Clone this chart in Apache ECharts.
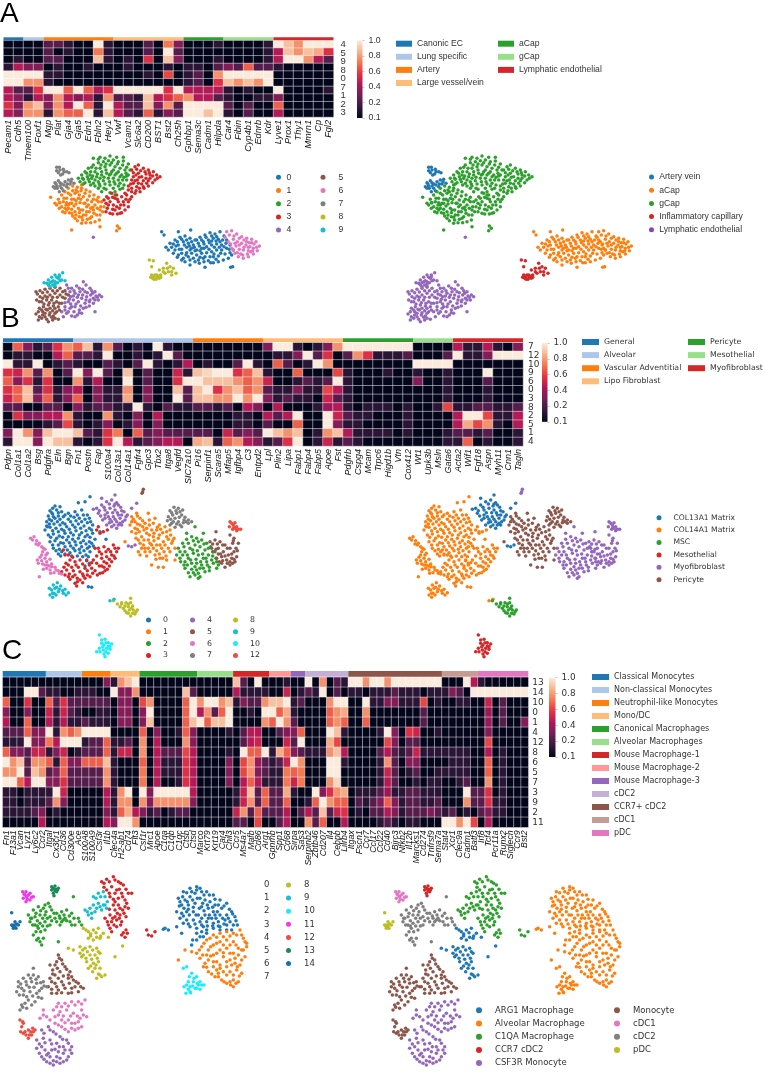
<!DOCTYPE html>
<html><head><meta charset="utf-8">
<script src="https://cdn.jsdelivr.net/npm/echarts@6/dist/echarts.min.js"></script>
<style>html,body{margin:0;padding:0;background:#fff}#c{width:765px;height:1075px}</style></head>
<body><div id="c"></div>
<script>
// ---------- heatmap A ----------
const genesA=['Pecam1','Cdh5','Tmem100','Foxf1','Mgp','Plat','Gja4','Gja5','Edn1','Fbln2','Hey1','Vwf','Vcam1','Slc6a2','CD200','BST1','Bst2','Ch25h','Gphbp1','Sema3c','Cadm1','Hilpda','Car4','Fibin','Cyp4b1','Ednrb','Kdr','Lyve1','Prox1','Thy1','Mmrn1','Cp','Fgl2'];
const rowTicksA=['4','5','9','8','0','7','1','2','3'];
const heatA=[
[1,1,1,1,3,3,2,1,1,10,2,1,1,1,3,1,7.5,4,1,1,1,2,1,1,1,1,2,10,9,8,10,10,10],
[1,1,1,1,3,1,2,1,1,7.5,2,1,1,1,3,1,10,3,1,1,1,1,1,1,1,1,2,5,9,8,9,8.5,6],
[1,2,1,1,3,3,1,1,1,9,2,1,2,1,6,1,9,4,1,1,1,2,1,1,1,1,2,5,10,10,8,5,3],
[2,5,4,4,1,2,1,1,2,1,1,1,2,1,1,1,2,1,2,2,1,3,4,3,7,3,3,2,1,1,1,1,1],
[10,10,10,10,2,2,1,1,1,1,1,1,1,1,2,1,6.5,1,2,3,1,8,10,10,10,10,10,1,1,1,1,1,1],
[10,10,8,8,2,1,1,1,1,1,1,1,1,1,1,1,1,1,2,3,1,6,9,8,9,8,10,1,1,1,1,1,1],
[5,3,3,6,10,10,7,10,7,5,6,10,10,10,10,10,6,10,5,5,5,5,2,1,2,1,1,10,1,1,1,1,2],
[5,4,2,5,4,8,5,4,5,2,8,3,3,2,9,5,6,7,8,5,5,3,2,1,1,2,2,4,1,1,1,1,1],
[6,4,8,9,4,8,5,10,7,2,10,5,3,3,9,4,8,3,10,10,10,10,3,1,3,1,1,7,1,1,1,1,1],
[5,4,8,8,2,8,7,7,10,2,9,5,3,2,7,2,4,3,10,10,9,10,2,1,3,1,1,5,1,1,1,1,1]];
const groupsA=['Canonic EC','Lung specific','Artery','Large vessel/vein','aCap','gCap','Lymphatic endothelial'];
const groupSizesA=[2,2,7,7,4,5,6];
// ---------- heatmap B ----------
const genesB=['Pdpn','Col1a1','Col1a2','Bsg','Pdgfra','Eln','Bgn','Fn1','Postn','Fap','S100a4','Col13a1','Col14a1','Fgfr4','Gpc3','Tbx2','Itga8','Vegfd','SIC7a10','Pi16','Serpinf1','Scara5','Mfap5','Igfbp4','C3','Entpd2','Lpl','Plin2','Lipa','Fabp1','Fabp4','Fabp5','Apoe','Fst','Pdgfrb','Cspg4','Mcam','Trpc6','Higd1b','Vtn','Cox412','Wt1','Upk3b','Msln','Gata6','Acta2','Wif1','Fgf18','Aspn','Myh11','Cnn1','Tagln'];
const rowsB=['7','12','10','9','6','0','3','8','2','5','1','4'];
const heatB=[
[1,7,4,2,3,6,8,7,9,2,8,3,1,2,1,10,2,1,1,1,1,1,1,1,1,1,4,10,10,2,1,2,4,8,10,10,10,10,10,10,10,1,1,1,1,5,2,2,5,2,1,4],
[1,2,2,1,1,5,7,3,3,2,10,1,1,2,1,2,10,3,1,1,1,1,1,1,1,1,1,2,2,4,10,3,6,1,3,8,6,2,2,2,3,1,1,1,3,10,2,2,4,10,10,10],
[10,2,2,10,1,2,3,2,1,1,3,2,1,3,10,2,1,2,5,1,2,1,1,3,10,2,1,7,3,1,2,10,8,1,1,1,1,1,1,1,1,10,10,10,10,1,1,1,1,1,1,1],
[6,5.5,8,3,8,1,3,10,4,10,3,1,9,1,3,1,1,5.5,2,9,9.5,10,10,6,7,9,2,1,1,7,1,1,1,6.5,2,1,1,1,2,1,1,2,1,1,2,1,1,1,10,1,1,1],
[7,4,6,2,6,1,1,8,2,5,1,1,10,1,3,1,1,6,10,10,9,9,9,8,7,8,5.5,1,1,2,3,2,3,10,2,1,1,1,1,1,1,4,1,1,2,1,1,1,3,1,1,1],
[6,7,9,3,6,2,4,5,1,4,2,2,8,1,4,1,1,9,3,9,10,6,8,9,7,8,3,2,2,4,2,2,6.5,5,2,1,1,1,1,1,1,1,1,1,2,1,1,1,2,1,1,1],
[5.5,7,9,4,7,2,4,7,1,4,2,2,8.5,1,4,1,1,10,3,9,9,8,8,10,8,10,4,2,3,2,2,1,5.5,3,2,1,1,1,1,1,1,1,1,1,2,1,1,1,2,1,1,1],
[3,3,1,1,3,3,1,4,2,3,3,2,2,10,2,1,3,2,2,3,3,2,3,1,5,4,1,5,1,1,1,2,4.5,5,2,1,2,2,2,1,2,1,1,2,6.5,2,2,3,3,2,2,3],
[1,6,4,4,5,5,8,2,1,1,8,2,1,4,1,5,1,1,1,1,1,1,1,2,2,1,5,3,5,10,1,1,10,5.5,3,2,2,1,1,1,2,1,1,1,1,5,10,10,6.5,2,2,5],
[1,1,1,1,2,3,6.5,2,1,2,4,1,2,4,1,4,1,1,1,1,1,1,1,2,2,1,3,1,1,7,1,1,10,4,2,2,1,1,1,1,2,1,1,1,1,5,8.5,6.5,8,2,1,5],
[4,10,8,4,9,10,10,9,3,2,6,7.5,1,7,3,4,3,3,3,3,3,1,5.5,3,4,3,10,9,8,9,1,2,8,9,5,2,2,2,2,1,2,1,1,1,2,3,3,2,3,1,1,2],
[2,10,10,4,10,9,9,2,1,2,6,10,5,2,3,4,5,5,1,8.5,9,2,7,8,5,4,2,3,6,10,1,2,5.5,2,3,2,1,1,1,1,1,1,1,1,2,2,7,1,2,1,1,2]];
const groupsB=['General','Alveolar','Vascular Adventitial','Lipo Fibroblast','Pericyte','Mesothelial','Myofibroblast'];
const groupSizesB=[7,12,7,8,7,4,7];
// ---------- heatmap C ----------
const genesC=['Fn1','F13a1','Vcan','Lyz1','Ly6c2','Ccr2','Itgal','Cx3cr1','Cd36','Cd300e','Ace','S100A8','S100A9','Csf3r','Il1b','Clec4a','H2-ab1','Cd74','Flt3','Csf1r','Mrc1','Apoe','C1qa','C1qb','C1qc','Ctsb','Ctsd','Marco','Krt79','Krt19','Car4','Chil3','Ccr5','Ms4a7','Mafb','Cd86','Arg1','Gpnmb','Spp1','Cd68','Sirpa','Sas3','Serpinb2','Zbtb46','Cd207','Il4','Cebpb','Lilrb4','Itgax','Fscn1','Ccr7','Ccl17','Ccl22','Cd40','Birc3','Nfkb2','Il12b','Marcks1','Cd274','Tnfrsf9','Sema7a','Stat4','Xcr1','Clec9a','Cadm1','Batf3','Irf8','Tcf4','Pcr11a','Runx2','Siglech','Ccr9','Bst2'];
const rowsC=['13','14','10','0','1','4','12','8','6','5','7','3','9','2','11'];
const heatC=[
[1,1,1,1,1,1,1,1,1,1,1,1,1,1,4,2,8,9,10,1,1,1,1,1,1,1,1,1,1,1,1,1,9,3,1,10,1,1,1,2,1,1,10,1,8,1,3,2,10,10,8,10,10,8,10,10,10,10,10,10,10,1,1,1,10,5,2,1,1,1,1,1,1],
[1,1,1,10,10,3,2,2,1,1,2,2,2,1,1,10,4,4,8,1,1,1,1,1,1,9,3,1,1,1,1,1,5,2,2,2,2,1,1,5.5,1,2,3,2,10,1,3,1,2,2,1,2,2,2,3,2,2,2,1,2,2,2,4,3,1,10,10,10,10,10,10,10,10],
[7,1,1,6,1,1,7,3,6,3,3,3,3,3,3,1,4,4,1,6.5,8,1,1,1,1,7,10,8,10,10,8,9,2,4,3,3,8,9,9,10,2,3,1,1,1,8,10,10,1,1,10,2,2,4,4,2,2,2,6.5,1,2,1,1,2,2,1,1,5.5,1,3,1,1,1],
[4,1,1,4,1,1,5.5,2,5.5,3,2,1,1,2,2,1,4,4,1,4,10,1,1,1,1,7,10,5,8,3,7,10,1,1,2,1,10,10,7,8.5,2,1,1,1,1,7,8,8.5,1,1,8,1,1,1,1,1,1,1,3,1,1,1,1,1,1,1,1,4.5,1,3,1,1,1],
[5,1,1,7,1,1,5,2,5,2,2,3,2,2,2,1,4,4,1,4,9,1,1,1,1,7,9,10,7,9,9,10,1,1,1,1,8,7,10,8,3,1,1,1,1,7,8,7,1,1,7,1,1,1,1,1,1,1,3,1,1,1,1,1,1,1,1,4.5,1,3,1,1,4],
[3,3,3,7,4,4,10,2,8,7,8,10,10,10,10,1,1,1,1,7,1,4,1,1,2,7,4,1,1,1,1,2,1,3,5,5,1,1,3,4,4,7,1,1,1,10,9,2,1,1,1,1,2,10,4,1,6,5.5,1,1,2,1,1,1,1,1,1,4,1,1,1,1,1],
[2,2,2,10,4,4,7.5,5,10,10,10,2,3,3,7,2,2,3,1,8,1,5,1,1,1,8,4,1,1,1,1,1,1,3,5,5.5,1,1,1,5.5,3,10,1,1,1,8.5,6.5,1,1,1,1,1,1,6.5,4,1,3,3,1,1,1,1,1,1,1,1,1,6.5,1,1,1,1,1],
[7,4,4,3,5.5,5.5,2,4,5.5,1,2,3,3,3,7,2,5.5,5.5,1,8,1,5,3,3,3,6.5,5,1,1,1,1,2,1,10,7,7,10,2,8.5,7,4,3,2,2,2,8,9,5,1,1,1,1,3,5,3,2,3,5.5,2,2,2,2,2,2,2,1,1,5,1,2,1,1,1],
[10,8,9,3,8,8,7,2,7,4,4,7,7,7,9,2,1,1,1,7,1,5,2,2,2,6,5,1,1,1,1,4,1,6.5,8,4.5,3,2,3,5.5,10,8,1,1,1,10,10,2,1,1,1,1,2,8,3,1,4,4,1,1,1,1,2,2,2,1,1,7,1,2,1,1,1],
[8,8,10,3,9,8,3,4,7,3,3,3,3,3,8,2,1,1,1,7.5,1,5,2,2,2,6,5,1,1,1,1,4,1,6.5,8,4,3,2,2,7.5,7,7.5,1,1,1,10,10,1,1,1,1,1,2,5.5,3,1,2,3,1,1,2,2,2,2,2,1,1,7,1,2,1,1,1],
[10,10,7,5,10,10,4,4,6,3,3,3,3,3,8,2,1,1,1,7.5,1,5,1,1,2,6,5,1,1,1,1,4,1,5,7,5,2,2,2,7.5,5.5,7.5,1,1,1,8,9.5,1,1,1,1,1,2,5,3,1,1,2,1,2,2,1,1,2,3,1,1,8,1,2,1,1,1],
[2,2,1,2,2,2,2,10,5.5,1,1,1,1,1,5,2,8,10,1,10,4,10,10,10,10,10,5,1,1,1,1,1,2,5.5,9,3,7,3,3,8.5,2,1,1,10,4,6,8,8.5,1,2,2,2,3,4.5,2,2,3,3,2,2,2,1,1,1,10,3,3,6,1,2,1,1,1],
[2,2,1,2,2,2,3,8,4,1,1,1,1,1,5,2,8,8,1,8,4,8,8,8,8,8,4,1,1,1,1,1,2,5.5,8,3,7,3,3,7,1,1,2,7,10,8,7,7,1,3,2,3,4,7,4,2,3,3,2,2,3,1,1,1,8,3,3,6,2,2,1,1,1],
[2,2,2,2,3,4,1,2,1,1,1,1,1,1,4,2,7,8.5,5,4,2,3,1,2,3,3,1,1,1,1,1,1,5.5,8,3,7,3,3,3,5,1,3,5,3,9,3,5.5,6,1,2,1,3,3,5,4,2,3,3,3,4,3,2,3,1,2,1,3,4,2,2,1,1,1],
[1,1,1,1,1,5,1,1,1,1,1,1,1,1,5,4,10,10,8,1,1,1,1,1,1,1,1,1,1,1,1,1,3,3,1,6.5,1,1,3,5,1,1,8,3,7,1,1,5,1,1,1,1,2,3,2,1,2,2,1,1,1,10,10,8,10,6.5,1,5,1,1,1,1,1]];
const groupsC=['Classical Monocytes','Non-classical Monocytes','Neutrophil-like Monocytes','Mono/DC','Canonical Macrophages','Alveolar Macrophages','Mouse Macrophage-1','Mouse Macrophage-2','Mouse Macrophage-3','cDC2','CCR7+ cDC2','cDC1','pDC'];
const groupSizesC=[6,5,4,4,8,5,5,3,2,6,13,5,7];
const tab20=['#1f77b4','#aec7e8','#ff7f0e','#ffbb78','#2ca02c','#98df8a','#d62728','#ff9896','#9467bd','#c5b0d5','#8c564b','#c49c94','#e377c2'];
const barTicks=['0.1','0.2','0.4','0.6','0.8','1.0'];
const rocket=['#03051a','#35193e','#701f57','#ad1759','#e13342','#f37651','#f6b48f','#faebdd'];
const clusterColors=['#1f77b4','#ff7f0e','#2ca02c','#d62728','#9467bd','#8c564b','#e377c2','#7f7f7f','#bcbd22','#17becf','#1cecf8','#ea3ce8','#ee4c3f','#1a8a57','#1a6fa8'];
// ---------- embedding A (x,y pairs, picture units) ----------
const a0=[498,262,510,250,525,240,540,232,555,228,570,235,585,240,600,232,615,225,630,218,645,222,660,215,672,228,680,240,690,255,700,270,695,285,685,295,670,300,655,305,640,308,625,302,610,295,595,300,580,295,565,290,550,295,535,285,525,270,515,262,535,255,550,245,565,250,580,255,595,250,610,245,625,240,640,235,655,238,665,255,650,252,635,255,620,260,605,265,590,270,575,265,560,262,545,268,545,280,560,278,575,280,590,285,605,280,620,278,635,275,650,270,665,270,680,265,675,282,655,288,640,290,485,215,492,225,535,215,572,210,615,322,692,322,698,320,570,315,
505,270,520,252,532,245,545,238,560,240,575,245,590,240,605,240,618,232,635,228,650,230,668,240,678,250,688,268,672,260,658,262,643,262,628,248,612,252,598,258,583,262,568,258,553,255,538,268,528,258,520,280,532,292,545,300,558,285,570,270,585,272,600,272,612,265,627,268,642,282,630,290,615,290,600,292,585,305,570,300,555,305,662,280,690,278,648,298,632,308,612,305,598,310,660,245,648,243,635,243];
const a1=[165,130,175,118,185,105,195,95,205,85,218,78,232,82,245,75,258,90,270,95,282,105,295,112,305,125,312,140,300,150,290,165,298,180,285,185,270,175,258,165,248,180,238,170,225,175,215,160,200,150,188,155,178,145,190,125,200,115,212,105,225,100,238,105,250,110,262,120,275,125,285,135,272,145,260,140,248,150,235,145,222,138,210,130,198,135,215,118,228,122,240,128,205,145,225,155,238,158,252,130,268,155,280,150,290,120,243,92,228,90,152,112,215,210,300,200,350,212,358,205,352,198,
170,135,180,128,192,115,205,100,218,92,232,95,245,85,255,100,268,108,280,118,295,125,302,140,292,145,282,160,275,170,262,178,250,165,240,150,228,165,215,148,205,135,195,145,185,140,178,128,215,130,228,132,242,118,255,130,265,135,278,142,260,155,245,172,232,182,218,168,208,158,195,158,272,188,258,188,245,190,300,165,308,155,222,118,235,115,200,128];
const a2=[235,55,245,45,255,35,265,25,280,15,295,8,310,5,325,2,340,0,355,5,370,3,385,12,390,30,385,45,380,60,372,75,360,88,345,95,330,98,318,88,305,95,295,85,280,70,268,65,255,68,248,55,270,45,285,35,300,25,315,20,330,15,345,20,360,25,375,30,365,45,350,40,335,35,320,40,305,45,290,50,275,55,295,65,310,62,325,55,340,55,355,60,345,72,330,75,315,72,300,78,340,85,360,70,280,-5,300,-8,330,-12,350,-8,
240,65,250,58,262,50,272,35,288,25,303,15,318,12,335,8,352,12,368,15,380,22,378,40,372,52,360,50,345,45,332,42,318,30,305,35,292,42,278,48,265,58,285,60,300,55,312,52,328,45,340,30,355,35,368,60,355,78,342,65,328,65,312,85,298,72,285,78,272,75,345,105,368,85,380,48,260,40,275,22,295,-2,315,-5,370,-8,250,72];
const a3=[395,30,405,20,415,15,430,25,445,30,460,35,470,45,480,50,465,60,450,55,440,70,432,85,420,95,405,100,395,85,385,90,375,100,400,70,412,60,425,50,438,42,415,40,400,50,450,45,425,72,410,80,320,110,335,100,345,115,330,125,318,130,340,135,355,125,365,110,378,118,372,135,385,140,375,150,360,160,345,150,330,160,322,145,395,110,385,125,350,105,358,145,
400,38,410,28,422,32,435,35,448,38,458,48,472,55,458,68,445,62,438,55,430,62,418,52,408,45,395,60,405,62,415,70,430,80,418,85,408,92,395,95,385,78,392,72,445,78,312,120,325,115,338,112,352,118,325,135,338,148,350,140,362,135,370,125,380,105,390,118,365,158,352,162,338,162,318,155];
const a4=[200,375,215,385,230,378,250,365,270,385,285,395,298,405,305,410,295,420,280,430,268,438,255,430,245,415,260,410,272,405,255,395,240,395,225,400,212,410,205,425,220,420,235,425,225,440,210,445,195,440,185,455,200,460,215,468,232,465,245,460,250,445,238,450,285,455,235,405,210,395,280,415,190,470,280,232,
205,385,222,392,238,385,258,375,275,392,288,408,285,420,270,420,258,420,248,405,262,398,248,388,232,412,220,408,208,418,195,428,212,432,228,432,242,438,258,442,268,425,238,458,222,455,205,455,195,450,215,440,278,400,292,412,225,470];
const a5=[108,395,120,392,135,388,150,385,165,382,180,385,195,392,205,405,195,415,180,405,165,400,150,405,135,408,120,410,110,420,125,425,140,420,155,420,170,425,185,430,175,440,160,438,145,435,130,440,118,445,128,455,142,450,158,452,170,455,160,468,148,465,135,470,125,475,108,462,115,480,145,485,158,480,175,478,
112,402,128,398,142,396,158,392,172,392,188,395,198,402,188,412,172,412,158,412,142,412,128,415,118,425,132,432,148,428,162,430,178,430,165,445,150,445,138,448,125,450,115,455,135,460,150,458,165,460,178,450,155,472,140,478,128,465,118,470,165,475];
const a6=[680,215,695,212,710,222,725,230,740,235,755,238,768,245,778,258,772,272,760,282,745,290,730,295,715,290,705,280,695,265,685,245,675,232,700,238,712,245,725,250,738,255,750,260,760,265,745,272,730,270,718,268,708,258,740,245,752,275,722,282,688,225,702,228,718,235,732,240,748,248,762,252,770,262,758,272,742,282,728,285,712,278,700,270,692,252,705,250,718,255,732,262,745,262,755,248];
const a7=[170,22,180,30,175,38,190,28,200,35,188,42,207,38,165,68,175,62,185,72,160,80,172,85,180,78,195,65,205,60,215,58,222,70,200,80,190,92,210,72,178,95,168,72,178,22,192,35,182,45,170,32,180,68,192,75,170,78,165,85,202,72,213,65,185,85];
const a8=[448,300,460,302,455,320,478,330,490,325,500,310,510,320,505,335,520,325,528,340,515,345,495,340,455,345,462,350,470,345,478,355,468,358,458,355,482,345,465,345,472,352,462,358,478,348,452,352,490,335,502,325,515,335,482,352,458,348];
const a9=[132,368,145,360,155,352,165,345,178,345,188,338,175,355,165,365,158,375,150,380,165,378,140,370,185,360,195,362,172,368,150,368,160,362,170,352,180,362,155,365,145,375,165,372,178,350];
// ---------- embedding B ----------
const b0=[165,78,180,80,150,92,170,90,185,95,145,108,158,102,175,108,190,110,205,100,225,95,245,90,262,105,140,125,155,122,172,125,188,128,205,118,222,112,238,115,255,118,272,125,135,150,150,142,168,145,185,148,200,140,218,135,235,132,252,138,268,145,145,165,160,162,178,168,195,160,212,158,228,152,245,158,262,165,278,160,150,185,165,182,182,188,200,180,218,178,235,175,250,182,268,185,285,178,160,205,178,208,195,200,212,198,228,195,245,200,262,205,280,198,175,222,210,218,225,212,240,218,258,225,270,215,260,242,268,250,255,258,265,320,275,322,235,68,255,65,270,50,300,155,318,178,
158,85,175,98,160,110,148,118,165,115,180,118,195,105,212,108,232,105,250,105,268,115,148,132,162,132,180,135,195,132,212,125,228,122,245,125,262,128,278,135,142,140,158,152,175,155,192,152,208,148,225,142,242,145,258,152,275,150,152,172,170,175,188,172,205,170,220,165,238,165,255,170,270,172,158,195,175,195,190,190,208,188,225,185,242,188,258,192,275,190,168,212,185,215,202,210,220,205,238,208,252,212,268,200,182,228,195,222,215,228,232,228,248,230,265,230,155,98,140,138];
const b1=[395,110,410,100,420,115,405,125,390,135,405,145,420,135,435,130,445,100,465,115,478,135,495,140,510,150,522,175,515,190,525,205,510,215,498,228,480,235,465,225,450,215,435,205,420,190,408,175,425,170,440,160,455,150,470,150,488,158,500,170,490,185,475,175,460,170,445,180,455,195,470,195,485,205,470,212,440,145,418,155,395,155,475,262,490,262,525,240,455,255,375,185,415,215,420,225,
400,118,412,108,428,122,395,125,412,132,428,140,412,148,432,150,448,120,448,135,460,130,472,142,482,148,500,155,512,165,518,182,505,178,495,195,505,205,492,215,478,222,460,205,445,205,430,195,415,180,432,180,448,165,462,160,478,165,480,195,462,182,450,190,435,215,468,238,488,235,500,240,408,160,425,205,440,228];
const b2=[535,205,548,190,560,178,575,170,590,175,605,180,620,190,632,200,645,215,655,255,640,250,628,262,615,275,600,290,585,285,570,290,555,265,542,245,530,225,555,215,570,205,585,195,600,200,615,210,625,225,610,235,595,225,580,220,565,235,555,245,575,250,590,250,605,255,620,245,590,270,575,268,560,160,585,140,610,160,650,265,
540,215,552,200,565,190,580,182,595,185,612,192,625,205,638,215,648,235,635,240,622,255,610,265,595,280,580,278,565,278,552,255,540,235,562,225,578,210,592,212,608,222,618,235,602,245,588,238,572,240,562,255,585,260,600,265,638,228,650,245,548,225,595,295,628,272];
const b3=[190,210,205,225,218,232,198,250,185,275,200,270,215,262,228,255,240,240,225,285,240,275,255,265,268,255,280,240,285,205,298,215,312,200,325,208,340,195,350,215,335,225,320,230,305,235,290,250,305,258,320,250,335,245,315,272,300,280,285,272,270,290,255,295,240,300,225,310,210,298,195,285,230,318,345,235,275,265,260,240,250,288,295,140,310,155,290,150,300,160,322,150,
195,225,210,240,225,245,205,255,192,262,208,282,220,272,235,262,248,252,232,295,248,282,262,272,275,248,290,228,295,205,305,222,318,215,332,215,345,205,342,228,328,238,312,245,298,258,312,262,328,258,322,268,308,278,292,285,278,280,262,285,248,308,232,305,218,290,205,290,355,205];
const b4=[290,85,305,75,320,65,335,60,350,68,362,82,372,95,382,105,375,120,365,135,350,145,335,140,320,135,308,120,295,100,315,90,330,85,345,90,355,105,340,110,325,110,335,125,350,125,360,115,315,105,345,72,280,88,305,55,345,45,410,70,395,85,385,198,395,200,405,195,298,92,312,82,328,72,342,78,355,75,365,92,378,110,368,125,355,135,342,135,328,128,315,115,302,108,322,98,338,98,352,98,365,105,345,118,330,118,360,130];
const b5=[630,185,645,180,660,185,675,195,690,205,702,215,710,230,705,245,690,255,675,262,665,250,650,235,640,215,655,205,670,215,685,225,695,235,680,240,665,230,648,155,690,165,702,175,715,190,708,205,698,190,430,28,428,35,426,40,638,192,652,192,668,195,682,205,695,222,702,238,698,250,682,250,668,242,655,222,648,208,662,222,675,228,690,245,635,205,658,245,700,182,712,212];
const b6=[92,175,102,170,110,182,118,190,108,192,125,200,135,208,128,215,142,220,120,232,135,235,150,238,115,250,128,252,142,255,155,252,165,262,150,270,162,278,175,272,185,282,140,265,130,268,118,290,98,180,115,195,130,205,138,225,125,225,112,240,125,242,140,245,155,260,168,270,178,280,148,258,135,255,152,280];
const b7=[510,92,522,82,535,85,548,90,505,110,518,105,530,100,545,105,555,112,565,120,575,125,565,130,550,128,535,125,520,125,510,135,525,142,540,135,502,122,515,98,528,92,540,95,538,112,525,115,512,118,552,120,558,125,530,132,545,140,515,130];
const b8=[340,362,352,372,365,372,378,368,392,355,398,378,412,390,405,402,392,408,380,398,370,385,385,380,400,390,388,390,360,380,375,378,385,372,392,368,395,385,408,395,398,400,385,400,375,392,365,368];
const b9=[148,325,160,315,172,308,182,318,195,328,205,338,190,340,175,335,162,340,150,345,158,352,170,322,330,362,342,358,155,330,165,325,178,328,188,332,198,345,168,345,158,340];
const b10=[298,465,305,480,315,478,325,488,335,492,330,508,320,505,310,510,300,515,290,515,315,530,325,520,312,495,305,490,318,488,325,498,308,500,298,505,318,515,330,500,312,522];
const b12=[690,125,700,135,710,140,722,148,710,152,698,148,688,140,705,128,695,130,705,145,715,148,702,142];
// ---------- embedding C ----------
const c0=[530,185,545,165,535,145,550,125,570,115,590,110,605,125,620,125,640,135,660,150,680,160,695,185,705,200,712,225,695,240,680,225,660,240,640,235,620,240,610,260,590,270,575,285,555,150,570,140,585,130,600,145,615,150,630,155,645,165,665,175,680,195,660,195,640,185,625,175,605,170,585,160,565,165,545,190,560,185,580,185,595,195,615,195,635,205,655,215,675,210,640,220,620,215,600,215,580,210,560,210,540,205,590,235,610,230,570,230,495,235,505,240,490,238,530,230,545,250,
540,155,548,140,560,128,575,125,590,120,600,115,612,135,628,135,645,148,655,165,672,168,688,178,698,192,708,212,690,215,672,222,655,228,638,228,622,228,605,245,590,250,578,270,552,175,562,155,578,150,592,145,608,160,622,165,638,172,652,185,668,205,648,205,628,195,612,182,598,175,580,172,565,178,550,198,568,195,588,195,605,205,625,205,645,195,660,230,680,240,605,225,585,222,565,222,550,220,600,260,620,250,538,168,685,205,700,225];
const c1=[590,310,605,290,620,270,640,255,660,250,680,245,700,250,720,240,730,265,740,290,735,320,720,345,725,370,715,395,700,410,680,400,665,390,645,380,625,365,615,340,600,325,625,300,640,285,660,275,680,270,700,275,715,295,700,310,680,295,660,300,640,315,625,330,650,335,670,320,690,330,705,340,680,350,660,355,640,350,655,370,680,375,700,375,710,360,690,395,740,280,535,330,555,300,
598,300,612,280,630,265,650,262,670,260,690,258,710,255,725,255,735,275,730,300,725,330,712,350,718,378,708,400,692,405,672,395,655,380,635,372,620,352,608,315,632,290,650,280,670,285,690,285,708,285,705,325,690,310,670,308,650,310,632,318,640,335,660,345,680,335,695,345,670,365,650,360,690,365,700,390,725,300,715,315,620,315,610,350,575,305];
const c2=[85,195,100,180,115,170,130,175,145,160,155,180,170,190,185,185,200,180,215,190,235,205,245,225,225,225,210,215,195,205,180,205,165,205,150,200,135,195,120,195,105,200,90,215,105,225,120,220,135,215,150,225,135,240,115,235,100,255,115,265,130,265,125,285,175,275,180,225,220,140,
92,205,108,190,122,182,138,185,150,170,162,190,178,198,192,195,208,198,222,205,238,215,215,225,200,212,185,215,170,215,155,212,142,205,128,205,112,212,98,225,112,228,128,228,142,228,122,245,108,245,110,270,120,275,95,205,190,210,135,165];
const c3=[305,95,320,88,340,80,355,95,370,105,385,130,375,150,385,175,378,200,365,215,350,230,335,245,325,225,315,205,330,195,345,180,360,175,345,155,330,140,320,120,335,110,350,120,365,130,355,145,340,165,360,195,350,210,335,215,378,240,365,255,375,262,395,130,440,240,445,255,455,258,465,245,
312,100,328,95,345,90,362,100,378,118,368,140,380,160,372,190,358,205,342,225,330,235,322,215,338,205,352,190,368,180,355,165,340,148,328,130,345,130,358,118,375,170,345,200,328,178,362,225,370,248,382,250,312,112];
const c4=[125,540,145,530,160,545,180,560,200,570,215,590,215,610,200,630,180,640,160,645,140,635,125,620,110,595,110,570,130,565,150,570,170,580,190,590,175,605,155,600,135,600,150,620,170,620,190,610,132,550,150,540,168,552,188,568,205,580,210,600,205,620,190,635,170,635,150,640,132,628,118,610,118,582,135,578,155,582,178,590,165,598,145,610,125,590,180,625,160,632,140,615,195,600];
const c5=[175,315,185,330,165,345,150,345,195,350,210,365,180,365,165,375,150,385,145,410,165,400,185,395,205,385,220,390,235,400,250,415,235,425,215,415,195,415,175,420,155,430,205,430,178,325,170,335,188,342,200,358,172,355,158,360,158,372,175,385,190,378,205,375,215,380,228,395,242,410,225,410,208,400,190,405,170,410,155,395,155,418,185,428,215,428,170,430];
const c6=[175,460,195,460,215,455,235,455,255,450,245,480,260,500,240,505,220,490,200,480,180,485,165,500,185,510,205,510,225,520,245,530,225,540,205,545,185,530,165,520,140,500,120,505,130,480,185,470,205,468,225,465,245,462,250,495,232,498,212,498,190,498,175,495,195,518,215,520,235,515,235,535,215,535,195,538,175,525,150,510,130,495,160,480,170,470];
const c7=[55,395,70,385,85,375,100,375,115,380,130,395,140,410,125,415,110,400,95,395,80,405,65,415,50,425,70,435,90,425,110,430,125,445,105,455,85,450,65,465,80,475,60,480,100,355,62,402,78,395,92,385,108,388,122,398,132,408,118,422,102,412,88,412,72,422,58,435,80,440,98,438,115,442,95,465,75,460,55,410,68,472];
const c8=[250,235,265,245,280,240,295,235,310,250,325,262,300,265,280,270,265,265,240,290,255,295,270,290,290,295,300,310,285,315,270,315,250,315,240,310,260,335,280,340,295,335,265,355,285,355,300,375,315,375,290,385,205,295,220,300,345,320,368,288,258,240,272,252,288,248,302,258,290,262,272,258,248,300,262,305,278,300,295,305,292,325,275,328,258,325,245,320,272,348,288,345,300,355,278,365,295,372,305,380];
const c9=[280,140,295,130,310,125,322,155,310,165,295,160,280,165,270,175,255,180,265,195,275,205,320,175,305,180,290,175,288,145,302,140,315,140,300,170,285,185,275,190,262,185,315,165];
const c10=[550,355,560,350,575,370,590,380,600,395,612,405,600,418,585,415,570,425,558,430,552,410,565,395,580,395,570,410,595,405,568,380,582,385,592,400,578,408,565,418,590,415,605,405,560,405,572,428];
const c11=[68,125,78,125,90,130,100,140,90,150,78,155,70,145,80,140,72,132,85,135,95,142,82,148,75,135];
const c12=[60,510,70,520,62,545,75,545,85,540,98,535,105,540,95,555,85,565,70,550,65,530,78,555,92,545,88,555,100,545,68,515];
const c13=[155,110,165,108,175,115,170,125,160,130,155,120,162,137,160,115,168,118,165,122,172,120];
const c14=[35,225,45,215,55,225,48,235,40,235,35,188,60,215,42,225,50,222,38,228,45,230];
// ---------- cluster ids and cell types ----------
const clustersA=[a0,a1,a2,a3,a4,a5,a6,a7,a8,a9], idsA=[0,1,2,3,4,5,6,7,8,9];
const clustersB=[b0,b1,b2,b3,b4,b5,b6,b7,b8,b9,b10,b12], idsB=[0,1,2,3,4,5,6,7,8,9,10,12];
const clustersC=[c0,c1,c2,c3,c4,c5,c6,c7,c8,c9,c10,c11,c12,c13,c14], idsC=[0,1,2,3,4,5,6,7,8,9,10,11,12,13,14];
const typesA=['Artery vein','aCap','gCap','Inflammatory capillary','Lymphatic endothelial'], typeOfA=[1,2,2,2,4,4,1,0,3,4];
const typesB=['COL13A1 Matrix','COL14A1 Matrix','MSC','Mesothelial','Myofibroblast','Pericyte'], typeOfB=[1,5,4,1,0,4,1,5,2,1,3,4];
const typesC=['ARG1 Macrophage','Alveolar Macrophage','C1QA Macrophage','CCR7 cDC2','CSF3R Monocyte','Monocyte','cDC1','cDC2','pDC'], typeOfC=[1,1,7,2,4,5,4,5,0,2,1,6,5,3,8];

const SANS='"Liberation Sans"', DJ='"DejaVu Sans"', TXT='#333';
const opt={animation:false,backgroundColor:'#fff',grid:[],xAxis:[],yAxis:[],series:[],legend:[],title:[],
 visualMap:{show:false,min:.1,max:1,seriesIndex:[],inRange:{color:rocket},dimension:2}};
function addAxes(g,x,y){const gi=opt.grid.length;opt.grid.push(g);const xi=opt.xAxis.length,yi=opt.yAxis.length;
 opt.xAxis.push(Object.assign({gridIndex:gi},x));opt.yAxis.push(Object.assign({gridIndex:gi},y));return{gi,xi,yi};}
function heat(box,genes,mat,labels,fs,fam,rowFs,rowMargin){
 const a=addAxes({left:box[0],top:box[1],width:box[2],height:box[3]},
  {type:'category',data:genes,axisLine:{show:false},axisTick:{show:false},axisLabel:{interval:0,rotate:90,fontStyle:'italic',fontSize:fs,fontFamily:SANS,color:'#111',margin:3},splitLine:{show:false}},
  {type:'category',data:mat.map((_,i)=>i),inverse:true,show:false});
 opt.yAxis.push({gridIndex:a.gi,type:'category',data:labels,inverse:true,position:'right',axisLine:{show:false},axisTick:{show:false},axisLabel:{interval:0,fontSize:rowFs,fontFamily:fam,color:'#333',margin:rowMargin}});
 const d=[];mat.forEach((r,y)=>r.forEach((v,x)=>d.push([x,y,v/10])));
 opt.visualMap.seriesIndex.push(opt.series.length);
 opt.series.push({type:'heatmap',xAxisIndex:a.xi,yAxisIndex:a.yi,data:d,silent:true,itemStyle:{borderColor:'rgba(255,255,255,.75)',borderWidth:.6}});
}
function strip(box,names,sizes){
 const a=addAxes({left:box[0],top:box[1],width:box[2],height:box[3]},{type:'value',min:0,max:sizes.reduce((p,q)=>p+q,0),show:false},{type:'category',data:['g'],show:false});
 names.forEach((n,i)=>opt.series.push({type:'bar',name:n,stack:'s'+a.gi,barWidth:'100%',xAxisIndex:a.xi,yAxisIndex:a.yi,data:[sizes[i]],silent:true,itemStyle:{color:tab20[i]}}));
}
function colorbar(box,fam,fs){
 const a=addAxes({left:box[0],top:box[1],width:box[2],height:box[3]},{type:'category',data:['c'],show:false},
 {type:'value',min:0,max:1,interval:.2,position:'right',splitLine:{show:false},axisLine:{show:false},axisTick:{show:true,length:2,lineStyle:{color:'#999',width:.6}},axisLabel:{fontSize:fs,fontFamily:fam,color:'#333',margin:6,formatter:(v)=>barTicks[Math.round(v*5)]}});
 opt.series.push({type:'bar',barWidth:'100%',xAxisIndex:a.xi,yAxisIndex:a.yi,data:[1],silent:true,itemStyle:{color:{type:'linear',x:0,y:1,x2:0,y2:0,colorStops:rocket.map((c,i)=>({offset:i/7,color:c}))}}});
}
function pairs(f){const o=[];for(let i=0;i<f.length;i+=2)o.push([f[i],f[i+1]]);return o;}
const SZ=3.5;
function embed(px,py,w,h,y0,clusters,ids,types,typeOf,off){
 const mk=(left)=>addAxes({left:left,top:py,width:w,height:h},{type:'value',min:0,max:w*3,show:false},{type:'value',min:y0,max:y0+h*3,inverse:true,show:false});
 const a=mk(px);
 clusters.forEach((c,i)=>opt.series.push({type:'scatter',name:String(ids[i]),xAxisIndex:a.xi,yAxisIndex:a.yi,data:pairs(c),symbolSize:SZ,silent:true,itemStyle:{color:clusterColors[ids[i]],opacity:1}}));
 const b=mk(px+off);
 const palette=['#1f77b4','#ff7f0e','#2ca02c','#d62728','#9467bd','#8c564b','#e377c2','#7f7f7f','#bcbd22'];
 types.forEach((t,k)=>{let d=[];clusters.forEach((c,i)=>{if(typeOf[i]===k)d=d.concat(pairs(c));});
  opt.series.push({type:'scatter',name:t,xAxisIndex:b.xi,yAxisIndex:b.yi,data:d,symbolSize:SZ,silent:true,itemStyle:{color:palette[k],opacity:1}});});
}
function leg(names,colors,left,cy,step,icon,iw,ih,fam,fs){
 opt.legend.push({selectedMode:false,orient:'vertical',left:left,top:cy-5.5,padding:0,itemGap:step-11,itemWidth:iw,itemHeight:ih,
  textStyle:{fontFamily:fam,fontSize:fs,color:TXT,lineHeight:11,padding:[0,0,0,0]},
  data:names.map((n,i)=>({name:n,icon:icon,itemStyle:{color:colors[i],opacity:1}}))});
}
const clusterCol=ids=>ids.map(i=>clusterColors[i]);
// ----- A -----
heat([3.5,40.5,330,76.5],genesA,heatA,rowTicksA,9.2,SANS,9.5,7);
strip([3.5,37.3,330,3],groupsA,groupSizesA);
colorbar([357,40.5,5.5,77.5],SANS,8.8);
embed(0,150,370,180,-30,clustersA,idsA,typesA,typeOfA,372);
leg(groupsA.slice(0,4),tab20,396,43.7,13.1,'rect',16,6,SANS,8.6);
leg(groupsA.slice(4),tab20.slice(4),498,43.7,13.1,'rect',16,6,SANS,8.6);
leg(['0','1','2','3','4'],clusterCol([0,1,2,3,4]),276,177.3,13.2,'circle',6,5,SANS,8.6);
leg(['5','6','7','8','9'],clusterCol([5,6,7,8,9]),320.5,177.3,13.2,'circle',21,5,SANS,8.6);
leg(typesA,['#1f77b4','#ff7f0e','#2ca02c','#d62728','#8f3fc4'],649,177,13.2,'circle',5.5,5,SANS,8.6);
// ----- B -----
heat([3,342.7,520,103.3],genesB,heatB,rowsB,9,DJ,9,5);
strip([3,338.3,520,3.8],groupsB,groupSizesB);
colorbar([542,343,5.5,78.8],DJ,8.8);
embed(0,480,300,190,0,clustersB,idsB,typesB,typeOfB,379);
leg(groupsB.slice(0,4),tab20,582,342,13.1,'rect',17,6,DJ,7.8);
leg(groupsB.slice(4),tab20.slice(4),688,342,13.1,'rect',17,6,DJ,7.8);
leg(['0','1','2','3'],clusterCol([0,1,2,3]),146,620,11.8,'circle',19,5,DJ,7.8);
leg(['4','5','6','7'],clusterCol([4,5,6,7]),190,620,11.8,'circle',19,5,DJ,7.8);
leg(['8','9','10','12'],clusterCol([8,9,10,12]),233,620,11.8,'circle',19,5,DJ,7.8);
leg(typesB,['#1f77b4','#ff7f0e','#2ca02c','#d62728','#9467bd','#8c564b'],656.5,517.7,12.4,'circle',19,5,DJ,7.6);
// ----- C -----
heat([2.7,677.3,525.6,150],genesC,heatC,rowsC,8.8,DJ,9,4);
strip([2.7,671,525.6,5.7],groupsC,groupSizesC);
colorbar([549,677.7,6.5,79.3],DJ,8.8);
embed(0,850,370,225,0,clustersC,idsC,typesC,typeOfC,373);
leg(groupsC,tab20,592,677,13,'rect',17,6,DJ,8);
leg(['0','1','2','3','4','5','6','7'],Array(8).fill('transparent'),256,885,13.1,'circle',3,3,DJ,8.5);
leg(['8','9','10','11','12','13','14'],clusterCol([8,9,10,11,12,13,14]),286,885,13.1,'circle',21,5,DJ,8.5);
leg(typesC.slice(0,5),['#1f77b4','#ff7f0e','#2ca02c','#d62728','#9467bd'],476,1010.3,13.2,'circle',22,6,DJ,8.5);
leg(typesC.slice(5),['#8c564b','#e377c2','#7f7f7f','#bcbd22'],614,1010.3,13.2,'circle',22,6,DJ,8.5);
// ----- panel letters -----
[['A',0,0],['B',1,305],['C',2,637]].forEach(l=>opt.title.push({text:l[0],left:l[1],top:l[2],padding:0,textStyle:{fontFamily:SANS,fontSize:28,fontWeight:'normal',color:'#000'}}));
const chart=echarts.init(document.getElementById('c'),null,{renderer:'canvas'});
chart.setOption(opt);
</script></body></html>
